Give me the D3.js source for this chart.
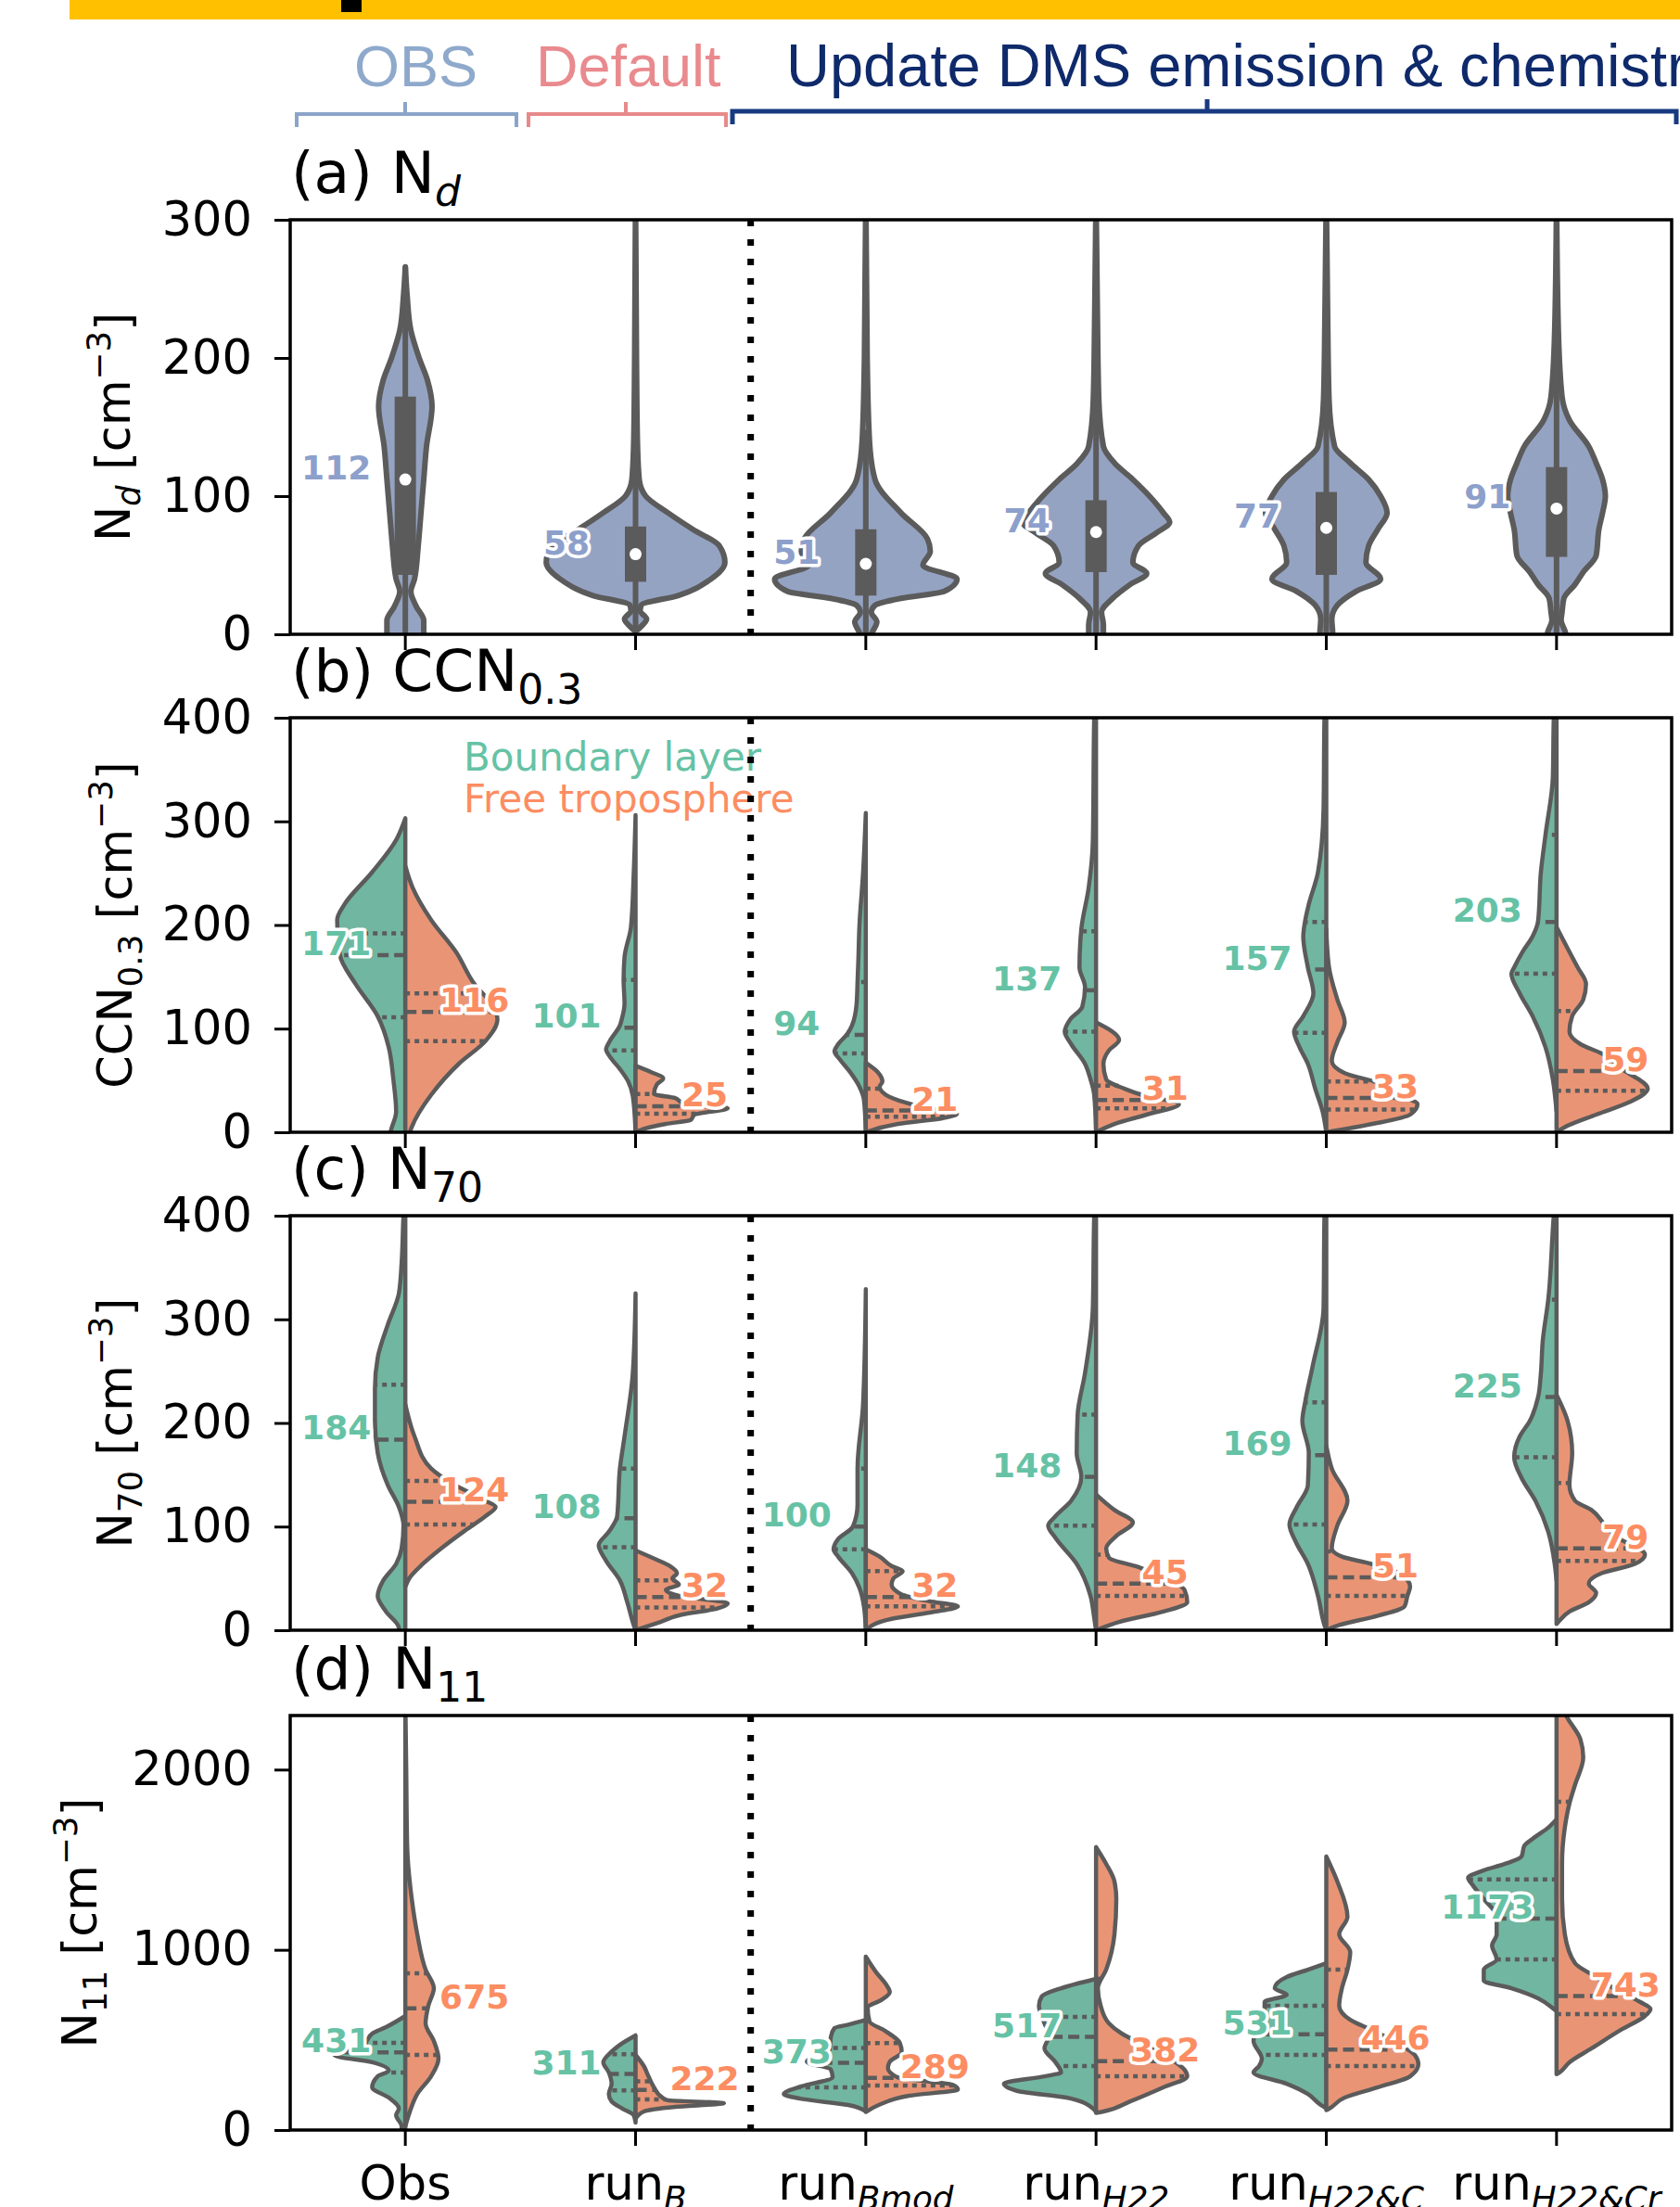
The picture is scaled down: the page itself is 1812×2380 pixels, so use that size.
<!DOCTYPE html>
<html>
<head>
<meta charset="utf-8">
<script src="https://cdn.jsdelivr.net/npm/d3@7"></script>
<style>
  body { margin: 0; background: #fff; }
  svg text { font-family: "DejaVu Sans", sans-serif; }
</style>
</head>
<body>
<svg id="chart" width="1812" height="2380"></svg>
<script>
// ---- data ----
var runs = ["Obs", "runB", "runBmod", "runH22", "runH22&C", "runH22&Cr"];
var runSubs = ["", "B", "Bmod", "H22", "H22&C", "H22&Cr"];

// (a) Nd : symmetric violins, profile = [value, relative half width]
var ndDensity = [
  [[-10,0.18],[0,0.2],[10,0.2],[20,0.12],[31,0.06],[40,0.1],[64,0.14],[88,0.17],[112,0.2],[136,0.23],[165,0.29],[184,0.24],[200,0.15],[220,0.06],[245,0.02],[266,0]],
  [[2,0],[5,0.05],[11,0.12],[17,0.05],[21,0.06],[28,0.46],[40,0.82],[52,0.97],[64,0.91],[76,0.62],[88,0.35],[100,0.11],[112,0.04],[140,0.02],[200,0.01],[320,0]],
  [[-5,0.04],[0,0.06],[9,0.12],[16,0.06],[21,0.1],[26,0.38],[31,0.85],[40,0.99],[50,0.62],[60,0.7],[69,0.67],[88,0.38],[112,0.1],[140,0.04],[200,0.015],[320,0]],
  [[-5,0.06],[0,0.08],[7,0.08],[16,0.06],[26,0.18],[36,0.37],[44,0.55],[52,0.4],[64,0.46],[74,0.67],[81,0.8],[88,0.73],[100,0.58],[112,0.4],[124,0.2],[136,0.08],[170,0.03],[230,0.015],[320,0]],
  [[-5,0.07],[0,0.07],[11,0.06],[21,0.12],[31,0.32],[40,0.59],[52,0.43],[64,0.46],[76,0.56],[88,0.66],[100,0.59],[112,0.46],[124,0.26],[136,0.09],[170,0.03],[230,0.015],[320,0]],
  [[-5,0.1],[0,0.1],[10,0.05],[16,0.06],[26,0.08],[36,0.2],[45,0.29],[57,0.43],[76,0.46],[88,0.5],[100,0.53],[112,0.5],[124,0.43],[136,0.35],[155,0.14],[172,0.06],[220,0.02],[320,0]]
];
var ndBox = [[43,172],[38,78],[28,76],[45,97],[43,103],[56,121]];
var ndWhisker = [[0,266],[2,138],[0,148],[0,175],[0,193],[0,218]];
var ndMedian = [112, 58, 51, 74, 77, 91];

// (b) CCN0.3 : boundary layer (left) / free troposphere (right)
var ccnBL = [
  [[-10,0.17],[0,0.16],[20,0.1],[51,0.13],[82,0.18],[112,0.3],[143,0.54],[171,0.71],[205,0.74],[220,0.66],[251,0.36],[282,0.1],[303,0]],
  [[0,0],[35,0.03],[49,0.08],[61,0.17],[73,0.28],[80,0.32],[88,0.28],[103,0.17],[109,0.15],[124,0.12],[147,0.13],[169,0.12],[198,0.05],[250,0.02],[306,0]],
  [[0,0],[31,0.02],[44,0.07],[58,0.17],[70,0.28],[78,0.34],[85,0.3],[95,0.2],[103,0.15],[124,0.1],[145,0.09],[169,0.08],[198,0.07],[250,0.03],[308,0]],
  [[0,0],[36,0.02],[51,0.06],[66,0.12],[85,0.27],[97,0.34],[109,0.28],[121,0.15],[140,0.12],[159,0.18],[196,0.16],[236,0.08],[281,0.035],[400,0.02],[430,0]],
  [[0,0],[20,0.04],[42,0.12],[66,0.2],[82,0.29],[97,0.35],[112,0.25],[134,0.14],[159,0.2],[189,0.25],[204,0.23],[220,0.19],[251,0.09],[312,0.03],[400,0.02],[430,0]],
  [[20,0],[51,0.04],[82,0.12],[112,0.26],[134,0.4],[153,0.49],[159,0.46],[174,0.37],[189,0.26],[204,0.2],[251,0.17],[287,0.12],[343,0.04],[400,0.03],[430,0]]
];
var ccnFT = [
  [[-10,0.04],[0,0.05],[5,0.07],[36,0.28],[66,0.58],[88,0.87],[109,1.0],[122,0.95],[143,0.75],[174,0.55],[205,0.28],[236,0.08],[257,0]],
  [[0,0],[2,0.05],[8,0.33],[12,0.6],[17,0.64],[23,1.0],[29,0.5],[33,0.43],[37,0.2],[46,0.23],[52,0.3],[58,0.17],[64,0]],
  [[0,0],[8,0.35],[14,0.86],[18,0.99],[23,0.69],[29,0.42],[36,0.22],[44,0.15],[49,0.18],[58,0.13],[67,0]],
  [[0,0],[8,0.2],[17,0.55],[27,0.9],[36,0.5],[42,0.31],[51,0.11],[66,0.08],[79,0.14],[89,0.25],[106,0]],
  [[0,0],[8,0.5],[17,0.91],[27,0.99],[36,0.79],[48,0.56],[57,0.2],[69,0.06],[87,0.12],[106,0.2],[128,0.12],[159,0.03],[196,0]],
  [[0,0],[5,0.09],[17,0.43],[29,0.79],[42,0.99],[60,0.73],[76,0.49],[85,0.26],[97,0.14],[112,0.17],[128,0.29],[143,0.32],[159,0.23],[174,0.14],[198,0]]
];
var ccnQBL = [[111,171,192],[79,101,147],[76,94,145],[97,137,194],[96,157,203],[153,203,287]];
var ccnQFT = [[88,116,134],[18,25,37],[15,21,42],[23,31,45],[22,33,49],[40,59,117]];

// (c) N70
var n70BL = [
  [[-10,0.1],[2,0.07],[18,0.21],[33,0.3],[48,0.24],[64,0.1],[79,0.04],[101,0.02],[119,0.07],[140,0.19],[171,0.3],[202,0.33],[233,0.33],[263,0.3],[295,0.19],[325,0.07],[355,0.04],[400,0.02],[430,0]],
  [[0,0],[5,0.02],[27,0.09],[48,0.17],[67,0.32],[82,0.4],[95,0.29],[110,0.2],[156,0.17],[187,0.12],[248,0.03],[325,0]],
  [[0,0],[23,0.02],[41,0.07],[55,0.15],[71,0.3],[78,0.35],[88,0.3],[100,0.14],[121,0.09],[156,0.09],[218,0.03],[329,0]],
  [[0,0],[12,0.02],[33,0.06],[64,0.21],[89,0.44],[101,0.52],[110,0.44],[125,0.27],[148,0.16],[171,0.21],[208,0.2],[248,0.12],[311,0.035],[400,0.02],[430,0]],
  [[0,0],[5,0.02],[33,0.09],[64,0.2],[85,0.33],[102,0.4],[119,0.32],[140,0.2],[171,0.19],[202,0.26],[220,0.23],[254,0.15],[311,0.03],[400,0.02],[430,0]],
  [[48,0],[64,0.02],[95,0.09],[125,0.23],[147,0.38],[167,0.46],[187,0.4],[202,0.29],[225,0.2],[248,0.17],[279,0.15],[319,0.09],[400,0.03],[430,0]]
];
var n70FT = [
  [[42,0],[51,0.05],[64,0.19],[79,0.39],[95,0.63],[110,0.87],[119,0.98],[125,0.87],[141,0.52],[156,0.28],[187,0.1],[218,0]],
  [[0,0],[8,0.27],[15,0.5],[20,0.84],[26,1.0],[33,0.48],[39,0.33],[44,0.47],[50,0.4],[55,0.45],[62,0.37],[68,0.23],[77,0]],
  [[0,0],[11,0.28],[17,0.69],[23,1.0],[28,0.69],[35,0.38],[44,0.28],[50,0.3],[57,0.4],[62,0.28],[71,0.15],[78,0]],
  [[0,0],[8,0.25],[18,0.73],[27,0.99],[39,0.96],[51,0.73],[61,0.46],[70,0.14],[79,0.11],[91,0.22],[104,0.4],[116,0.2],[131,0]],
  [[0,0],[5,0.14],[14,0.56],[23,0.85],[33,0.88],[42,0.91],[55,0.79],[64,0.49],[71,0.17],[79,0.06],[101,0.12],[125,0.23],[156,0.06],[178,0]],
  [[6,0],[8,0.02],[18,0.14],[27,0.35],[36,0.43],[45,0.35],[55,0.49],[64,0.85],[73,0.96],[89,0.67],[101,0.53],[116,0.38],[125,0.2],[140,0.14],[171,0.17],[202,0.12],[227,0]]
];
var n70QBL = [[110,184,237],[80,108,156],[78,100,156],[101,148,208],[102,169,220],[167,225,319]];
var n70QFT = [[102,124,144],[22,32,48],[23,32,57],[33,45,73],[33,51,76],[67,79,142]];

// (d) N11
var n11BL = [
  [[-50,0.04],[21,0.04],[82,0.1],[118,0.07],[180,0.18],[237,0.36],[298,0.3],[329,0.18],[376,0.36],[415,0.77],[453,0.5],[494,0.42],[535,0.36],[571,0.21],[633,0]],
  [[41,0],[82,0.02],[118,0.14],[159,0.26],[200,0.29],[257,0.26],[319,0.29],[376,0.35],[435,0.26],[473,0.17],[525,0]],
  [[103,0],[139,0.19],[173,0.7],[200,0.89],[242,0.7],[293,0.36],[336,0.38],[379,0.64],[449,0.39],[516,0.38],[566,0.34],[585,0.19],[612,0]],
  [[100,0],[118,0.03],[180,0.32],[216,0.85],[257,1.0],[298,0.56],[319,0.38],[376,0.44],[453,0.56],[525,0.51],[592,0.56],[690,0.62],[741,0.59],[787,0.38],[839,0]],
  [[120,0],[139,0.06],[200,0.2],[257,0.43],[319,0.79],[355,0.73],[396,0.7],[494,0.79],[592,0.76],[672,0.67],[710,0.67],[751,0.43],[787,0.56],[849,0.43],[890,0.2],[926,0]],
  [[660,0],[672,0.03],[731,0.2],[787,0.49],[829,0.79],[890,0.79],[947,0.65],[1024,0.7],[1086,0.65],[1184,0.65],[1282,0.79],[1359,0.91],[1400,0.96],[1441,0.79],[1477,0.56],[1518,0.38],[1577,0.35],[1616,0.26],[1678,0.09],[1724,0]]
];
var n11FT = [
  [[21,0],[103,0.05],[200,0.13],[298,0.28],[396,0.36],[494,0.31],[592,0.22],[690,0.25],[787,0.31],[890,0.22],[1086,0.13],[1282,0.07],[1580,0.02],[2000,0.01],[2400,0]],
  [[62,0],[103,0.09],[129,0.43],[149,0.96],[165,0.35],[180,0.29],[237,0.2],[298,0.14],[355,0.09],[417,0]],
  [[100,0],[139,0.14],[190,0.47],[225,1.0],[250,0.95],[293,0.34],[345,0.24],[379,0.26],[432,0.39],[483,0.37],[550,0.21],[602,0.04],[679,0.02],[722,0.17],[766,0.26],[808,0.22],[877,0.11],[962,0]],
  [[95,0],[103,0.08],[159,0.37],[237,0.73],[298,0.99],[335,0.96],[417,0.73],[473,0.52],[535,0.28],[592,0.14],[690,0.05],[787,0.02],[890,0.11],[1086,0.2],[1282,0.22],[1379,0.2],[1477,0.11],[1570,0]],
  [[110,0],[118,0.03],[180,0.2],[237,0.56],[298,0.91],[365,1.0],[417,0.96],[494,0.73],[556,0.49],[612,0.26],[690,0.14],[787,0.17],[890,0.23],[988,0.26],[1086,0.14],[1184,0.23],[1379,0.12],[1518,0]],
  [[310,0],[319,0.03],[376,0.14],[453,0.38],[556,0.7],[633,0.96],[672,1.02],[710,0.91],[787,0.62],[849,0.43],[926,0.2],[1086,0.09],[1282,0.06],[1477,0.06],[1678,0.09],[1812,0.14],[1914,0.2],[2069,0.29],[2167,0.26],[2285,0.12],[2400,0]]
];
var n11QBL = [[319,431,484],[220,311,420],[237,373,456],[355,517,628],[417,531,690],[947,1173,1390]];
var n11QFT = [[417,675,870],[170,222,270],[247,289,483],[298,382,839],[355,446,890],[643,743,1822]];

// ---- styling ----
var gray = "#5b5b5b";
var colBL = "#66c2a5", colFT = "#fc8d62", colND = "#8da0cb";
var fillBL = "#71b6a0", fillFT = "#e99575", fillND = "#95a3c3";
var fs = 51, titleFs = 63;

var svg = d3.select("#chart");

// ---- header ----
svg.append("rect").attr("x", 75).attr("y", 0).attr("width", 1737).attr("height", 21).attr("fill", "#ffc000");
svg.append("rect").attr("x", 368).attr("y", 0).attr("width", 22).attr("height", 13).attr("fill", "#000");

var header = [
  {t: "OBS", x: 382, c: "#8ea9cb", s: 63},
  {t: "Default", x: 578, c: "#e98a8e", s: 63},
  {t: "Update DMS emission & chemistry", x: 848, c: "#0f2a6b", s: 65}
];
header.forEach(function (h) {
  svg.append("text").attr("x", h.x).attr("y", 93)
    .style("font-family", "'Liberation Sans', Arial, sans-serif")
    .style("font-size", h.s + "px").attr("fill", h.c).text(h.t);
});

var brackets = [
  {x0: 320, x1: 557, xm: 437, y: 123, c: "#8aa5c8", w: 4},
  {x0: 570, x1: 783, xm: 675, y: 123, c: "#e88a8a", w: 4},
  {x0: 790, x1: 1808, xm: 1302, y: 120, c: "#173a80", w: 5}
];
brackets.forEach(function (b) {
  svg.append("path")
    .attr("d", "M" + b.x0 + "," + (b.y + 14) + "V" + b.y + "H" + b.x1 + "V" + (b.y + 14) +
               "M" + b.xm + "," + b.y + "V" + (b.y - 13))
    .attr("fill", "none").attr("stroke", b.c).attr("stroke-width", b.w);
});

// ---- scales ----
var x = d3.scaleBand().domain(runs).range([313, 1803]).padding(0);
var bw = x.bandwidth();
var cx = function (r) { return x(r) + bw / 2; };
var wScale = d3.scaleLinear().domain([0, 1]).range([0, 0.4 * bw]);
var panelH = 447;

function widthAt(dens, v) {
  for (var i = 0; i < dens.length - 1; i++) {
    if (v >= dens[i][0] && v <= dens[i + 1][0]) {
      var t = (v - dens[i][0]) / (dens[i + 1][0] - dens[i][0]);
      return dens[i][1] + t * (dens[i + 1][1] - dens[i][1]);
    }
  }
  return 0;
}

// text with sub/superscripts: parts = [{t, sub, sup, it}]
function rich(sel, parts, size) {
  var shift = 0;
  parts.forEach(function (p) {
    var target = 0;
    if (p.sub) target = 0.22 * size;
    if (p.sup) target = -0.42 * size;
    var ts = sel.append("tspan").text(p.t).attr("dy", target - shift);
    shift = target;
    if (p.sub || p.sup) ts.style("font-size", (0.7 * size) + "px");
    if (p.it) ts.style("font-style", "italic");
  });
}

var panels = [
  {top: 237, domain: [0, 300], ticks: [0, 100, 200, 300],
   title: [{t: "(a) N"}, {t: "d", sub: true, it: true}],
   ylab: [{t: "N"}, {t: "d", sub: true, it: true}, {t: " [cm"}, {t: "\u22123", sup: true}, {t: "]"}], ylx: 140},
  {top: 774, domain: [0, 400], ticks: [0, 100, 200, 300, 400],
   title: [{t: "(b) CCN"}, {t: "0.3", sub: true}],
   ylab: [{t: "CCN"}, {t: "0.3", sub: true}, {t: " [cm"}, {t: "\u22123", sup: true}, {t: "]"}], ylx: 142,
   bl: ccnBL, ft: ccnFT, qbl: ccnQBL, qft: ccnQFT, legend: true},
  {top: 1311, domain: [0, 400], ticks: [0, 100, 200, 300, 400],
   title: [{t: "(c) N"}, {t: "70", sub: true}],
   ylab: [{t: "N"}, {t: "70", sub: true}, {t: " [cm"}, {t: "\u22123", sup: true}, {t: "]"}], ylx: 142,
   bl: n70BL, ft: n70FT, qbl: n70QBL, qft: n70QFT},
  {top: 1850, domain: [0, 2300], ticks: [0, 1000, 2000],
   title: [{t: "(d) N"}, {t: "11", sub: true}],
   ylab: [{t: "N"}, {t: "11", sub: true}, {t: " [cm"}, {t: "\u22123", sup: true}, {t: "]"}], ylx: 104,
   bl: n11BL, ft: n11FT, qbl: n11QBL, qft: n11QFT, xlabels: true}
];

panels.forEach(function (p, pi) {
  var top = p.top, bottom = p.top + panelH;
  var y = d3.scaleLinear().domain(p.domain).range([bottom, top]);
  var g = svg.append("g").attr("class", "panel");

  var clipId = "clip" + pi;
  svg.append("clipPath").attr("id", clipId)
    .append("rect").attr("x", 313).attr("y", top).attr("width", 1490).attr("height", panelH);
  var plot = g.append("g").attr("clip-path", "url(#" + clipId + ")");

  // Violins
  if (!p.bl) {
    runs.forEach(function (r, i) {
      var c = cx(r);
      var area = d3.area().curve(d3.curveMonotoneY)
        .y(function (d) { return y(d[0]); })
        .x0(function (d) { return c - wScale(d[1]); })
        .x1(function (d) { return c + wScale(d[1]); });
      plot.append("path").attr("d", area(ndDensity[i]))
        .attr("fill", fillND).attr("stroke", gray).attr("stroke-width", 6).attr("stroke-linejoin", "round");
      plot.append("line").attr("x1", c).attr("x2", c)
        .attr("y1", y(ndWhisker[i][0])).attr("y2", y(ndWhisker[i][1]))
        .attr("stroke", gray).attr("stroke-width", 6);
      plot.append("rect").attr("x", c - 11.5).attr("width", 23)
        .attr("y", y(ndBox[i][1])).attr("height", y(ndBox[i][0]) - y(ndBox[i][1]))
        .attr("fill", gray);
      plot.append("circle").attr("cx", c).attr("cy", y(ndMedian[i])).attr("r", 6.5).attr("fill", "#fff");
    });
    runs.forEach(function (r, i) {
      g.append("text").attr("x", cx(r) - 0.3 * bw).attr("y", y(ndMedian[i]))
        .attr("text-anchor", "middle").style("font-size", "36px").style("font-weight", "bold")
        .attr("fill", colND).attr("stroke", "#fff").attr("stroke-width", 7)
        .attr("paint-order", "stroke").attr("stroke-linejoin", "round")
        .text(ndMedian[i]);
    });
  } else {
    var halves = [
      {dens: p.bl, q: p.qbl, side: -1, fill: fillBL, col: colBL},
      {dens: p.ft, q: p.qft, side: 1, fill: fillFT, col: colFT}
    ];
    runs.forEach(function (r, i) {
      var c = cx(r);
      halves.forEach(function (h) {
        var area = d3.area().curve(d3.curveMonotoneY)
          .y(function (d) { return y(d[0]); })
          .x0(c)
          .x1(function (d) { return c + h.side * wScale(d[1]); });
        plot.append("path").attr("d", area(h.dens[i]))
          .attr("fill", h.fill).attr("stroke", gray).attr("stroke-width", 4.5).attr("stroke-linejoin", "round");
      });
      halves.forEach(function (h) {
        h.q[i].forEach(function (v, k) {
          var w = wScale(widthAt(h.dens[i], v));
          plot.append("line").attr("x1", c).attr("x2", c + h.side * w)
            .attr("y1", y(v)).attr("y2", y(v))
            .attr("stroke", gray).attr("stroke-width", 4.5)
            .attr("stroke-dasharray", k === 1 ? "12,6" : "5,5");
        });
      });
    });
    runs.forEach(function (r, i) {
      halves.forEach(function (h) {
        var med = h.q[i][1];
        g.append("text").attr("x", cx(r) + h.side * 0.3 * bw).attr("y", y(med))
          .attr("text-anchor", "middle").style("font-size", "36px").style("font-weight", "bold")
          .attr("fill", h.col).attr("stroke", "#fff").attr("stroke-width", 7)
          .attr("paint-order", "stroke").attr("stroke-linejoin", "round")
          .text(med);
      });
    });
  }

  if (p.legend) {
    g.append("text").attr("x", 500).attr("y", top + 57).style("font-size", "42px")
      .attr("fill", colBL).text("Boundary layer");
    g.append("text").attr("x", 500).attr("y", top + 102).style("font-size", "42px")
      .attr("fill", colFT).text("Free troposphere");
  }

  // separator between default and updated runs
  var sx = x(runs[2]);
  g.append("line").attr("x1", sx).attr("x2", sx).attr("y1", top).attr("y2", bottom)
    .attr("stroke", "#000").attr("stroke-width", 7).attr("stroke-dasharray", "7,14");

  // axes
  var yAxis = g.append("g").attr("transform", "translate(313,0)")
    .call(d3.axisLeft(y).tickValues(p.ticks).tickSize(17).tickPadding(24).tickFormat(d3.format("d")));
  yAxis.select(".domain").remove();
  yAxis.selectAll("line").attr("stroke", "#000").attr("stroke-width", 3);
  yAxis.selectAll("text").style("font-size", fs + "px").style("font-family", "'DejaVu Sans', sans-serif").attr("fill", "#000");

  var xAxis = g.append("g").attr("transform", "translate(0," + bottom + ")")
    .call(d3.axisBottom(x).tickSize(17).tickFormat(""));
  xAxis.select(".domain").remove();
  xAxis.selectAll("line").attr("stroke", "#000").attr("stroke-width", 3);

  g.append("rect").attr("x", 313).attr("y", top).attr("width", 1490).attr("height", panelH)
    .attr("fill", "none").attr("stroke", "#000").attr("stroke-width", 3.5);

  // title
  var tt = g.append("text").attr("x", 314).attr("y", top - 29).style("font-size", titleFs + "px");
  rich(tt, p.title, titleFs);

  // y label
  var yl = g.append("text")
    .attr("transform", "translate(" + p.ylx + "," + (top + panelH / 2) + ") rotate(-90)")
    .attr("text-anchor", "middle").style("font-size", fs + "px");
  rich(yl, p.ylab, fs);

  if (p.xlabels) {
    runs.forEach(function (r, i) {
      var t = g.append("text").attr("x", cx(r)).attr("y", 2372)
        .attr("text-anchor", "middle").style("font-size", fs + "px");
      if (runSubs[i] === "") t.text(r);
      else rich(t, [{t: "run"}, {t: runSubs[i], sub: true, it: true}], fs);
    });
  }
});
</script>
</body>
</html>
